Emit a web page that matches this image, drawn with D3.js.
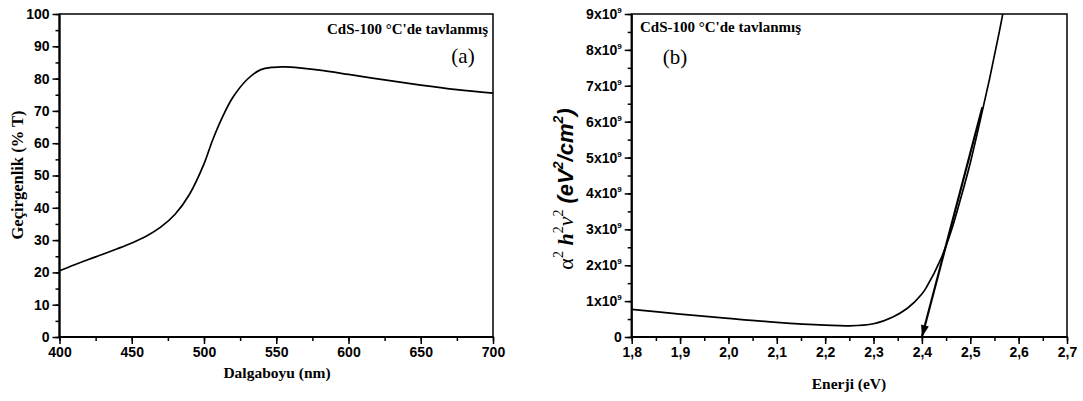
<!DOCTYPE html>
<html><head><meta charset="utf-8">
<script src="https://cdn.jsdelivr.net/npm/d3@7"></script>
<style>
body{margin:0;background:#fff;}
svg{display:block;}
</style></head>
<body><svg id="c" width="1083" height="401"></svg>
<script>
// Panel (a): transmittance
const wavelength = [400,410,420,430,440,450,460,470,480,490,500,506,513,520,530,539,548,556,566,580,600,625,650,675,700];
const transmittance = [20.5,22.3,24.0,25.6,27.3,29.1,31.2,34.0,38.0,44.2,53.6,61.0,68.3,74.2,79.8,82.7,83.5,83.6,83.3,82.6,81.3,79.6,78.0,76.6,75.5];
const xTicksA = [400,450,500,550,600,650,700];
const yTicksA = [0,10,20,30,40,50,60,70,80,90,100];

// Panel (b): Tauc plot
const energy = [1.8,1.9,2.0,2.1,2.2,2.25,2.3,2.34,2.37,2.4,2.41,2.44,2.46,2.48,2.5,2.52,2.54,2.56,2.58];
const alphaHv2 = [0.77e9,0.64e9,0.52e9,0.41e9,0.33e9,0.31e9,0.37e9,0.56e9,0.80e9,1.20e9,1.40e9,2.20e9,2.93e9,3.85e9,4.85e9,6.00e9,7.20e9,8.50e9,9.90e9];
const tangentE = [2.525,2.40];
const tangentA = [6.4e9,0];
const xTicksB = [1.8,1.9,2.0,2.1,2.2,2.3,2.4,2.5,2.6,2.7];
const yTicksB = [0,1,2,3,4,5,6,7,8,9];

const svg = d3.select("#c");
const serif = '"Liberation Serif","Times New Roman",serif';
const sans = '"Liberation Sans",Arial,sans-serif';

function panel(o){
  const g = svg.append("g");
  const x = d3.scaleLinear().domain(o.xd).range([o.x0,o.x1]);
  const y = d3.scaleLinear().domain(o.yd).range([o.y1,o.y0]);
  const xa = g.append("g").attr("transform",`translate(0,${o.y1})`)
    .call(d3.axisBottom(x).tickValues(o.xMinor).tickSize(4).tickFormat(""));
  xa.select(".domain").remove();
  const ya = g.append("g").attr("transform",`translate(${o.x0},0)`)
    .call(d3.axisLeft(y).tickValues(o.yMinor).tickSize(4).tickFormat(""));
  ya.select(".domain").remove();
  const xb = g.append("g").attr("transform",`translate(0,${o.y1})`)
    .call(d3.axisBottom(x).tickValues(o.xTicks).tickSize(7).tickPadding(3).tickFormat(o.xFmt));
  xb.select(".domain").remove();
  const yb = g.append("g").attr("transform",`translate(${o.x0},0)`)
    .call(d3.axisLeft(y).tickValues(o.yTicks).tickSize(7).tickPadding(3).tickFormat(o.yFmt||null));
  yb.select(".domain").remove();
  g.selectAll(".tick line").attr("stroke","#000").attr("stroke-width",1.5);
  g.selectAll(".tick text").attr("font-family",sans).attr("font-weight","bold")
    .attr("font-size",14).attr("fill","#000");
  g.append("rect").attr("x",o.x0).attr("y",o.y0).attr("width",o.x1-o.x0).attr("height",o.y1-o.y0)
    .attr("fill","none").attr("stroke","#000").attr("stroke-width",1.5);
  g.append("line").attr("x1",o.x0).attr("x2",o.x0).attr("y1",o.y0).attr("y2",o.y1+1).attr("stroke","#000").attr("stroke-width",2.2);
  g.append("line").attr("x1",o.x0-1).attr("x2",o.x1+1).attr("y1",o.y1).attr("y2",o.y1).attr("stroke","#000").attr("stroke-width",2.2);
  return {g,x,y,yb};
}

// ---- Panel a
const A = panel({x0:59.5,x1:493,y0:14,y1:337,xd:[400,700],yd:[0,100],
  xTicks:xTicksA,xMinor:d3.range(400,701,25),yTicks:yTicksA,yMinor:d3.range(0,101,5),xFmt:d3.format("d")});
svg.append("clipPath").attr("id","ca").append("rect").attr("x",59.5).attr("y",14).attr("width",433.5).attr("height",323);
A.g.append("path").datum(wavelength.map((w,i)=>[w,transmittance[i]]))
  .attr("clip-path","url(#ca)")
  .attr("d",d3.line().x(d=>A.x(d[0])).y(d=>A.y(d[1])).curve(d3.curveCatmullRom.alpha(0.5)))
  .attr("fill","none").attr("stroke","#000").attr("stroke-width",1.7);
svg.append("text").attr("x",488).attr("y",34).attr("text-anchor","end")
  .attr("font-family",serif).attr("font-weight","bold").attr("font-size",15).text("CdS-100 °C'de tavlanmış");
svg.append("text").attr("x",463).attr("y",63).attr("text-anchor","middle")
  .attr("font-family",serif).attr("font-size",21).text("(a)");
svg.append("text").attr("x",277).attr("y",378).attr("text-anchor","middle")
  .attr("font-family",serif).attr("font-weight","bold").attr("font-size",15.5).text("Dalgaboyu (nm)");
svg.append("text").attr("transform","translate(23,175) rotate(-90)").attr("text-anchor","middle")
  .attr("font-family",serif).attr("font-weight","bold").attr("font-size",16.5).text("Geçirgenlik (% T)");

// ---- Panel b
const B = panel({x0:631.7,x1:1067,y0:14,y1:337,xd:[1.8,2.7],yd:[0,9e9],
  xTicks:xTicksB,xMinor:d3.range(36,55).map(v=>v*0.05),yTicks:yTicksB.map(v=>v*1e9),yMinor:d3.range(0,19).map(v=>v*0.5e9),
  xFmt:d=>d3.format(".1f")(d).replace(".",","),yFmt:()=>""});
B.yb.selectAll(".tick text").each(function(d){
  const t=d3.select(this); const k=Math.round(d/1e9);
  if(k===0){t.text("0");return;}
  t.text(k+"x10");
  t.append("tspan").attr("dy",-6).attr("font-size",8).text("9");
});
svg.append("clipPath").attr("id","cb").append("rect").attr("x",631.7).attr("y",14).attr("width",435.3).attr("height",323);
B.g.append("path").datum(energy.map((e,i)=>[e,alphaHv2[i]]))
  .attr("clip-path","url(#cb)")
  .attr("d",d3.line().x(d=>B.x(d[0])).y(d=>B.y(d[1])).curve(d3.curveCatmullRom.alpha(0.5)))
  .attr("fill","none").attr("stroke","#000").attr("stroke-width",1.7);
svg.append("defs").append("marker").attr("id","arr").attr("viewBox","0 0 12 8").attr("refX",12).attr("refY",4)
  .attr("markerWidth",13).attr("markerHeight",8).attr("markerUnits","userSpaceOnUse").attr("orient","auto")
  .append("path").attr("d","M0,0 L12,4 L0,8 Z").attr("fill","#000");
B.g.append("line").attr("x1",B.x(tangentE[0])).attr("y1",B.y(tangentA[0]))
  .attr("x2",B.x(tangentE[1])).attr("y2",B.y(tangentA[1]))
  .attr("stroke","#000").attr("stroke-width",2.2).attr("marker-end","url(#arr)");
svg.append("text").attr("x",640).attr("y",32)
  .attr("font-family",serif).attr("font-weight","bold").attr("font-size",15).text("CdS-100 °C'de tavlanmış");
svg.append("text").attr("x",675).attr("y",64).attr("text-anchor","middle")
  .attr("font-family",serif).attr("font-size",21).text("(b)");
svg.append("text").attr("x",849).attr("y",389).attr("text-anchor","middle")
  .attr("font-family",serif).attr("font-weight","bold").attr("font-size",15.5).text("Enerji (eV)");
const yl = svg.append("text").attr("transform","translate(573,189) rotate(-90)").attr("text-anchor","middle")
  .attr("font-size",22);
const sup = 14, up = 10;
yl.append("tspan").attr("font-family",serif).text("α");
yl.append("tspan").attr("font-family",serif).attr("font-size",sup).attr("dy",-up).text("2");
yl.append("tspan").attr("font-family",serif).attr("font-weight","bold").attr("font-style","italic").attr("dy",up).text(" h");
yl.append("tspan").attr("font-family",serif).attr("font-size",sup).attr("dy",-up).text("2");
yl.append("tspan").attr("font-family",serif).attr("font-style","italic").attr("dy",up).text("ν");
yl.append("tspan").attr("font-family",serif).attr("font-size",sup).attr("dy",-up).text("2");
yl.append("tspan").attr("font-family",sans).attr("font-weight","bold").attr("font-style","italic").attr("dy",up).text(" (eV");
yl.append("tspan").attr("font-family",sans).attr("font-weight","bold").attr("font-style","italic").attr("font-size",sup).attr("dy",-up).text("2");
yl.append("tspan").attr("font-family",sans).attr("font-weight","bold").attr("font-style","italic").attr("dy",up).text("/cm");
yl.append("tspan").attr("font-family",sans).attr("font-weight","bold").attr("font-style","italic").attr("font-size",sup).attr("dy",-up).text("2");
yl.append("tspan").attr("font-family",sans).attr("font-weight","bold").attr("font-style","italic").attr("dy",up).text(")");
</script></body></html>
